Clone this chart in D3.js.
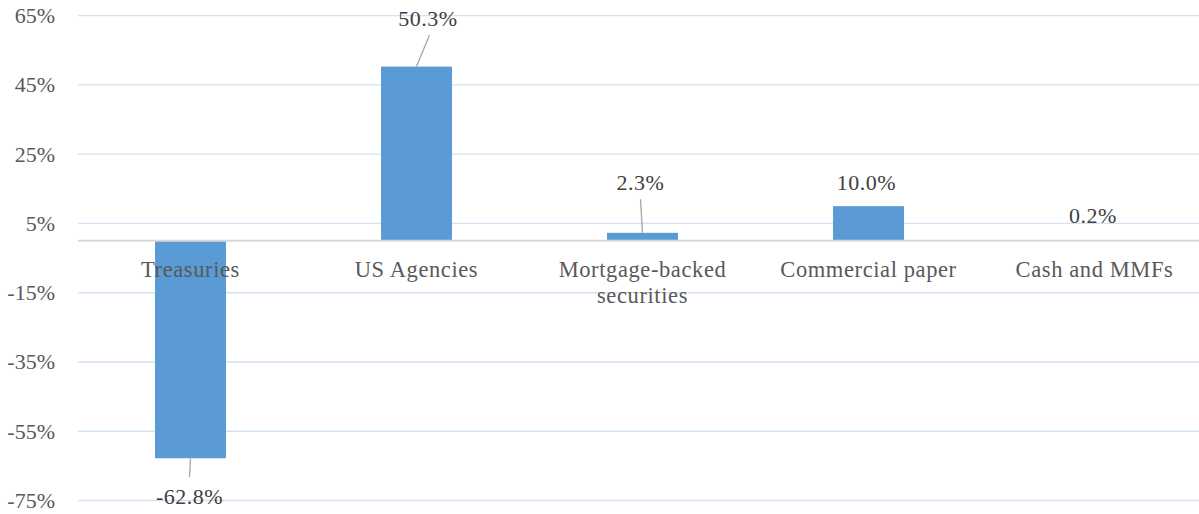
<!DOCTYPE html>
<html>
<head>
<meta charset="utf-8">
<script src="https://cdn.jsdelivr.net/npm/d3@7"></script>
<style>
  body { margin: 0; background: #fff; }
  text { font-family: "Liberation Serif", "Times New Roman", serif; }
</style>
</head>
<body>
<div id="chart"></div>
<script>
// Chart data
const categories = ['Treasuries', 'US Agencies', 'Mortgage-backed securities', 'Commercial paper', 'Cash and MMFs'];
const values = [-62.8, 50.3, 2.3, 10.0, 0.2];
const tickValues = [-75, -55, -35, -15, 5, 25, 45, 65];

// Where the data labels were dragged to (dx from bar centre, dy from bar end), and if a leader line shows
const labelShift = [
    {dx: -1, dy: 46, leader: true},
    {dx: 11.5, dy: -40.5, leader: true},
    {dx: -2, dy: -42.5, leader: true},
    {dx: -2, dy: -16, leader: false},
    {dx: -1.5, dy: -17, leader: false}
];

const width = 1199;
const height = 514;

const svg = d3.select('#chart')
    .append('svg')
    .attr('width', width)
    .attr('height', height);

// Scales
const x = d3.scaleBand()
    .domain(categories)
    .range([77.5, 1207.5])
    .paddingInner(0.686)
    .paddingOuter(0.343);

const y = d3.scaleLinear()
    .domain([-75, 65])
    .range([500.5, 15.7]);

// Gridlines
svg.append('g')
    .selectAll('line')
    .data(tickValues)
    .enter()
    .append('line')
    .attr('x1', 78)
    .attr('x2', width)
    .attr('y1', d => y(d))
    .attr('y2', d => y(d))
    .attr('stroke', '#d2e1f3')
    .attr('stroke-width', 1.3);

// Y axis labels
svg.append('g')
    .selectAll('text')
    .data(tickValues)
    .enter()
    .append('text')
    .attr('x', 55)
    .attr('y', d => y(d) + 7.5)
    .attr('text-anchor', 'end')
    .attr('font-size', 22)
    .attr('fill', '#595959')
    .text(d => d + '%');

// Bars
svg.append('g')
    .selectAll('rect')
    .data(values)
    .enter()
    .append('rect')
    .attr('x', (d, i) => x(categories[i]))
    .attr('y', d => y(Math.max(0, d)))
    .attr('width', x.bandwidth())
    .attr('height', d => Math.abs(y(d) - y(0)))
    .attr('fill', '#5b9bd5');

// Zero line
svg.append('line')
    .attr('x1', 78)
    .attr('x2', width)
    .attr('y1', y(0))
    .attr('y2', y(0))
    .attr('stroke', '#d9d9d9')
    .attr('stroke-width', 2);

// Category labels (wrap long names onto two lines)
const catText = svg.append('g')
    .selectAll('text')
    .data(categories)
    .enter()
    .append('text')
    .attr('x', d => x(d) + x.bandwidth() / 2)
    .attr('y', 277)
    .attr('text-anchor', 'middle')
    .attr('font-size', 22.5)
    .attr('letter-spacing', 0.6)
    .attr('fill', '#595959');

catText.each(function(d) {
    const lines = d === 'Mortgage-backed securities' ? ['Mortgage-backed', 'securities'] : [d];
    d3.select(this).selectAll('tspan')
        .data(lines)
        .enter()
        .append('tspan')
        .attr('x', x(d) + x.bandwidth() / 2)
        .attr('dy', (l, i) => i === 0 ? 0 : 26)
        .text(l => l);
});

// Leader lines
svg.append('g')
    .selectAll('line')
    .data(values.map((v, i) => ({v, i})).filter(d => labelShift[d.i].leader))
    .enter()
    .append('line')
    .attr('x1', d => x(categories[d.i]) + x.bandwidth() / 2)
    .attr('y1', d => y(d.v))
    .attr('x2', d => x(categories[d.i]) + x.bandwidth() / 2 + labelShift[d.i].dx + (d.i === 1 ? 1.5 : 0))
    .attr('y2', d => d.v < 0 ? y(d.v) + labelShift[d.i].dy - 27 : y(d.v) + labelShift[d.i].dy + 9)
    .attr('stroke', '#a6a6a6')
    .attr('stroke-width', 1.3);

// Data labels
svg.append('g')
    .selectAll('text')
    .data(values)
    .enter()
    .append('text')
    .attr('x', (d, i) => x(categories[i]) + x.bandwidth() / 2 + labelShift[i].dx)
    .attr('y', (d, i) => y(d) + labelShift[i].dy)
    .attr('text-anchor', 'middle')
    .attr('font-size', 22)
    .attr('letter-spacing', 0.5)
    .attr('fill', '#404040')
    .text(d => d.toFixed(1) + '%');
</script>
</body>
</html>
